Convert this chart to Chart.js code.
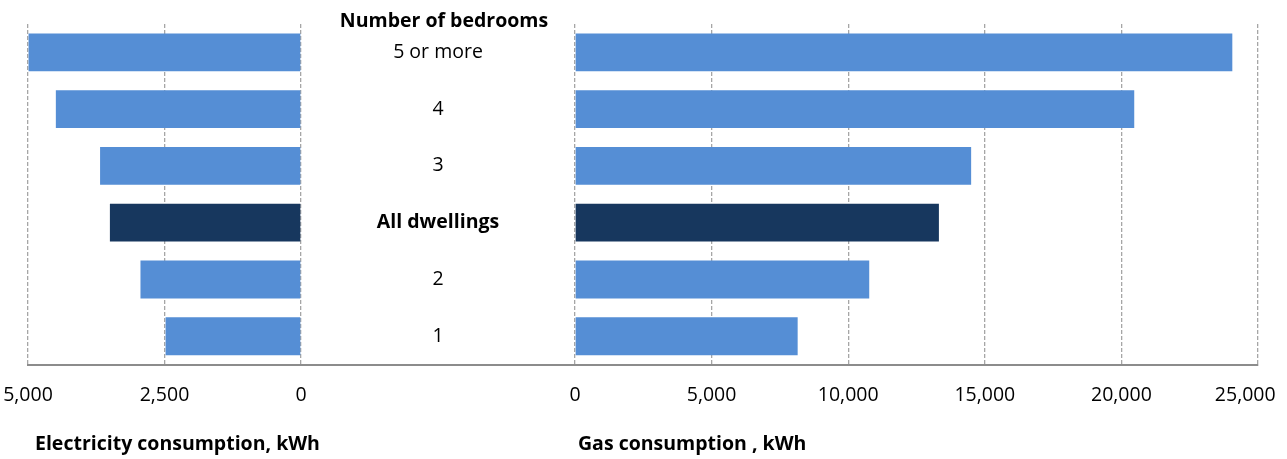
<!DOCTYPE html>
<html>
<head>
<meta charset="utf-8">
<script src="https://cdn.jsdelivr.net/npm/chart.js@4/dist/chart.umd.min.js"></script>
<style>
  html, body { margin: 0; padding: 0; background: #fff; }
  canvas { display: block; }
</style>
</head>
<body>
<canvas id="chart" width="1287" height="459"></canvas>
<script>
// Annual consumption per dwelling, by number of bedrooms
const bedrooms    = ['5 or more', '4', '3', 'All dwellings', '2', '1'];
const electricity = [4990, 4490, 3680, 3500, 2940, 2480];
const gas         = [24060, 20470, 14500, 13320, 10770, 8150];
const elecTicks   = [0, 2500, 5000];
const gasTicks    = [0, 5000, 10000, 15000, 20000, 25000];

const LIGHT = '#558ed5';
const DARK  = '#17375e';
const GRID  = '#a6a6a6';
const AXIS  = '#8c8c8c';
const FONT  = '"Open Sans", sans-serif';
const SIZE  = 19.5;

const barColors = bedrooms.map(b => b === 'All dwellings' ? DARK : LIGHT);

// edge labels may overhang, the layout padding already leaves room for them
const noOverhang = s => { s.paddingLeft = 0; s.paddingRight = 0; };

const fmt = v => v.toLocaleString('en-US');

// shared look of the two value axes
function valueAxis(ticks, weight, reverse, callback) {
  return {
    type:        'linear',
    position:    'bottom',
    stack:       'bottom',
    stackWeight: weight,
    reverse,
    min:         ticks[0],
    max:         ticks[ticks.length - 1],
    z:           1,
    afterBuildTicks: s => { s.ticks = ticks.map(v => ({ value: v })); },
    afterFit: noOverhang,
    grid:   { color: GRID, lineWidth: 1.3, drawTicks: false },
    border: { display: true, color: AXIS, width: 2, dash: [4, 2] },
    ticks:  {
      color: '#000', padding: 19, font: { family: FONT, size: SIZE },
      minRotation: 0, maxRotation: 0, autoSkip: false, callback,
    },
  };
}

// category names in the gap between the two panels, plus header and axis titles
const centreLabels = {
  id: 'centreLabels',
  afterDraw(chart) {
    const { ctx, scales, chartArea } = chart;
    const cx = (scales.xElec.right + scales.xGas.left) / 2;
    ctx.save();
    ctx.fillStyle = '#000';
    ctx.textAlign = 'center';
    ctx.textBaseline = 'middle';
    bedrooms.forEach((b, i) => {
      ctx.font = (b === 'All dwellings' ? 'bold ' : '') + SIZE + 'px ' + FONT;
      ctx.fillText(b, cx, scales.y.getPixelForValue(i));
    });
    ctx.font = 'bold ' + SIZE + 'px ' + FONT;
    ctx.fillText('Number of bedrooms', cx + 6, chartArea.top - 3);

    ctx.textAlign = 'left';
    const ty = chartArea.bottom + 80;
    ctx.fillText('Electricity consumption, kWh', scales.xElec.left + 7, ty);
    ctx.fillText('Gas consumption , kWh', scales.xGas.left + 3, ty);
    ctx.restore();
  },
};

new Chart(document.getElementById('chart'), {
  type: 'bar',
  data: {
    labels: bedrooms,
    datasets: [
      {
        label: 'Electricity consumption, kWh',
        data: electricity,
        xAxisID: 'xElec',
        backgroundColor: barColors,
        grouped: false,
        barPercentage: 0.667,
        categoryPercentage: 1,
      },
      {
        label: 'Gas consumption , kWh',
        data: gas,
        xAxisID: 'xGas',
        backgroundColor: barColors,
        grouped: false,
        barPercentage: 0.667,
        categoryPercentage: 1,
      },
    ],
  },
  options: {
    indexAxis:  'y',
    responsive: false,
    animation:  false,
    layout: { padding: { left: 28, right: 29, top: 24, bottom: 33 } },
    plugins: {
      legend:  { display: false },
      tooltip: { enabled: false },
    },
    scales: {
      y:     { display: false },
      xElec: valueAxis(elecTicks, 273, true, v => fmt(v)),
      xMid: {
        type: 'linear', position: 'bottom', stack: 'bottom', stackWeight: 274,
        min: 0, max: 1, z: 1,
        afterFit: noOverhang,
        grid:   { display: false, drawTicks: false },
        ticks:  { display: false },
        border: { display: true, color: AXIS, width: 2 },
      },
      // trailing spaces pull the last label back inside the canvas
      xGas:  valueAxis(gasTicks, 683, false,
        v => v === gasTicks[gasTicks.length - 1] ? fmt(v) + '\u2007\u2007\u2009' : fmt(v)),
    },
  },
  plugins: [centreLabels],
});
</script>
</body>
</html>
